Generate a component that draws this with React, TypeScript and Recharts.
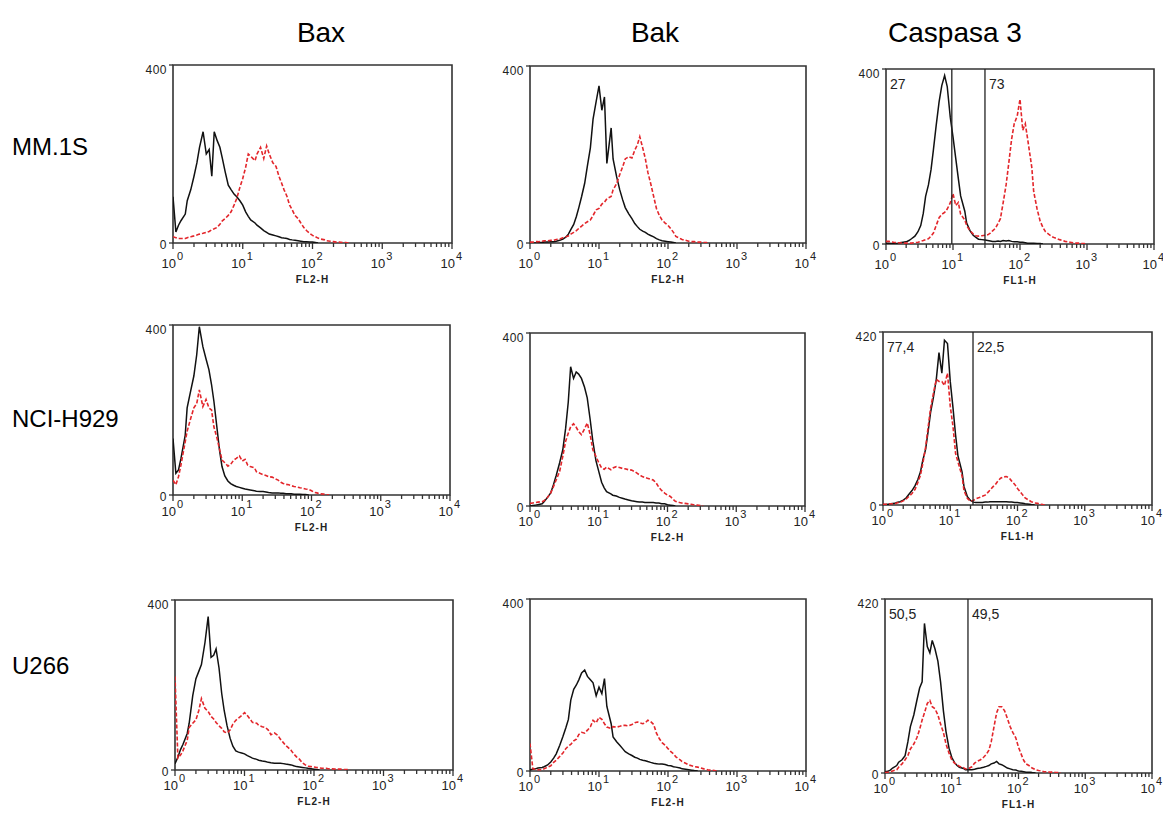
import React from "react";
import { LineChart, Line, XAxis, YAxis, ReferenceLine, ReferenceArea } from "recharts";

// fluorescence channels (log scale, E24 steps)
const CHANNELS = [
  1, 1.1, 1.2, 1.3, 1.5, 1.6, 1.8, 2, 2.2, 2.4, 2.7, 3, 3.3, 3.6, 3.9, 4.3, 4.7, 5.1, 5.6, 6.2, 6.8, 7.5, 8.2, 9.1,
  10, 11, 12, 13, 15, 16, 18, 20, 22, 24, 27, 30, 33, 36, 39, 43, 47, 51, 56, 62, 68, 75, 82, 91,
  100, 110, 120, 130, 150, 160, 180, 200, 220, 240, 270, 300, 330, 360, 390, 430, 470, 510, 560, 620, 680, 750, 820, 910,
  1000,
];

const X_TICKS = [
  1, 2, 3, 4, 5, 6, 7, 8, 9,
  10, 20, 30, 40, 50, 60, 70, 80, 90,
  100, 200, 300, 400, 500, 600, 700, 800, 900,
  1000, 2000, 3000, 4000, 5000, 6000, 7000, 8000, 9000,
  10000,
];

const COLUMN_TITLES = ["Bax", "Bak", "Caspasa 3"];
const ROW_LABELS = ["MM.1S", "NCI-H929", "U266"];

// black = control, red = treated (counts per channel)
const MM1S_BAX_CTRL = [104, 25, 40, 50, 65, 95, 120, 150, 180, 215, 250, 200, 210, 150, 250, 230, 215, 190, 160, 130, 120, 110, 104, 95, 85, 70, 60, 52, 45, 40, 34, 28, 24, 20, 18, 16, 14, 12, 11, 10, 8, 7, 6, 5, 4, 3, 3, 2, 2, 1, 0];
const MM1S_BAX_TREAT = [14, 12, 10, 10, 10, 12, 14, 16, 18, 20, 22, 24, 26, 30, 32, 35, 42, 50, 55, 62, 70, 85, 100, 125, 145, 170, 200, 195, 185, 200, 215, 190, 218, 200, 180, 172, 150, 135, 120, 105, 85, 75, 62, 55, 45, 35, 28, 22, 17, 14, 11, 9, 7, 5, 4, 3, 2, 2, 1, 1, 0];

const MM1S_BAK_CTRL = [0, 0, 0, 1, 1, 2, 2, 3, 3, 4, 6, 9, 13, 20, 30, 42, 60, 80, 105, 135, 175, 215, 280, 320, 355, 300, 330, 180, 260, 190, 150, 120, 98, 80, 66, 55, 44, 37, 31, 27, 24, 20, 17, 14, 10, 7, 5, 4, 3, 2, 1, 0];
const MM1S_BAK_TREAT = [2, 2, 3, 3, 4, 5, 5, 6, 6, 8, 9, 12, 14, 16, 20, 24, 28, 33, 38, 44, 48, 52, 62, 75, 78, 88, 92, 100, 105, 120, 134, 155, 172, 190, 195, 192, 210, 222, 240, 215, 190, 160, 135, 105, 78, 62, 52, 45, 40, 32, 24, 15, 10, 8, 6, 4, 3, 3, 2, 2, 1, 1, 0];

const MM1S_CASP_CTRL = [2, 2, 1, 1, 2, 3, 4, 5, 8, 12, 18, 28, 42, 70, 109, 135, 170, 215, 270, 325, 362, 385, 360, 290, 245, 195, 150, 110, 75, 48, 30, 20, 15, 11, 10, 9, 8, 7, 6, 6, 7, 6, 8, 7, 8, 6, 5, 5, 4, 4, 3, 2, 2, 2, 1, 1, 0];
const MM1S_CASP_TREAT = [6, 6, 5, 4, 3, 3, 2, 2, 2, 2, 3, 4, 6, 8, 10, 12, 18, 25, 42, 60, 68, 72, 80, 94, 115, 88, 95, 68, 55, 42, 30, 23, 19, 18, 19, 20, 21, 25, 30, 36, 47, 58, 94, 135, 185, 240, 275, 293, 331, 260, 275, 240, 175, 120, 80, 52, 38, 28, 22, 17, 14, 12, 10, 8, 6, 5, 4, 3, 2, 2, 1, 1, 0];

const NCI_BAX_CTRL = [133, 51, 59, 85, 140, 205, 245, 280, 330, 396, 349, 320, 295, 260, 220, 160, 105, 67, 45, 33, 27, 23, 20, 18, 16, 14, 13, 12, 10, 9, 8, 8, 7, 6, 5, 5, 5, 4, 4, 3, 3, 3, 2, 2, 2, 1, 1, 0];
const NCI_BAX_TREAT = [35, 24, 43, 70, 125, 150, 180, 205, 215, 247, 208, 225, 205, 200, 160, 135, 108, 82, 76, 68, 72, 82, 86, 92, 80, 84, 70, 67, 64, 55, 51, 48, 46, 43, 42, 38, 35, 30, 27, 25, 24, 22, 20, 19, 17, 16, 14, 13, 10, 6, 5, 3, 2, 1, 0];

const NCI_BAK_CTRL = [0, 1, 2, 3, 5, 10, 20, 30, 50, 70, 100, 130, 180, 240, 322, 295, 310, 305, 295, 275, 250, 200, 150, 105, 80, 55, 42, 33, 28, 25, 23, 20, 18, 16, 14, 12, 11, 10, 9, 9, 8, 8, 8, 8, 7, 7, 5, 5, 3, 2, 1, 0];
const NCI_BAK_TREAT = [6, 7, 8, 9, 10, 12, 20, 30, 45, 60, 80, 115, 150, 168, 183, 190, 182, 172, 165, 178, 192, 165, 130, 115, 100, 88, 85, 90, 84, 88, 91, 89, 87, 86, 84, 83, 80, 76, 72, 68, 66, 64, 62, 60, 54, 43, 36, 30, 25, 22, 16, 11, 8, 7, 6, 5, 4, 3, 2, 1, 0];

const NCI_CASP_CTRL = [1, 1, 2, 3, 4, 6, 8, 12, 17, 25, 35, 47, 62, 80, 108, 135, 180, 225, 260, 305, 370, 320, 400, 392, 300, 235, 170, 120, 80, 45, 20, 11, 7, 6, 6, 6, 7, 7, 8, 8, 8, 8, 8, 8, 8, 7, 7, 6, 6, 5, 4, 3, 2, 1, 0];
const NCI_CASP_TREAT = [2, 2, 2, 3, 3, 5, 7, 10, 14, 20, 28, 38, 55, 72, 100, 140, 190, 235, 270, 305, 300, 300, 290, 320, 240, 190, 125, 105, 70, 35, 16, 9, 11, 15, 18, 21, 24, 30, 36, 44, 50, 58, 65, 68, 69, 66, 58, 50, 40, 32, 24, 17, 11, 8, 5, 4, 2, 1, 0];

const U266_BAX_CTRL = [15, 30, 48, 60, 86, 110, 175, 215, 232, 248, 300, 361, 265, 270, 285, 240, 180, 140, 105, 75, 56, 45, 42, 40, 38, 34, 31, 28, 25, 23, 21, 20, 18, 17, 16, 16, 16, 15, 14, 13, 12, 10, 8, 7, 6, 5, 4, 3, 2, 1, 0];
const U266_BAX_TREAT = [220, 28, 35, 45, 70, 100, 110, 118, 140, 168, 145, 138, 126, 120, 112, 104, 98, 90, 87, 94, 108, 117, 122, 128, 135, 128, 120, 112, 110, 105, 102, 100, 94, 83, 87, 82, 72, 65, 58, 52, 46, 38, 31, 25, 17, 12, 9, 8, 7, 6, 5, 4, 4, 3, 3, 2, 2, 2, 1, 1, 0];

const U266_BAK_CTRL = [3, 4, 5, 7, 8, 10, 14, 21, 30, 40, 60, 80, 100, 120, 165, 190, 200, 212, 228, 235, 220, 212, 205, 175, 195, 180, 215, 150, 110, 79, 68, 60, 52, 45, 40, 36, 32, 30, 27, 25, 24, 22, 20, 18, 17, 16, 16, 15, 13, 12, 10, 9, 7, 5, 4, 3, 2, 1, 0];
const U266_BAK_TREAT = [64, 5, 4, 3, 3, 5, 9, 12, 20, 25, 34, 42, 52, 58, 62, 70, 74, 85, 90, 88, 95, 103, 118, 112, 125, 120, 110, 102, 99, 103, 102, 104, 106, 106, 105, 108, 112, 114, 112, 110, 112, 118, 115, 108, 88, 75, 66, 60, 52, 45, 40, 33, 26, 22, 18, 14, 12, 10, 9, 7, 5, 4, 2, 2, 1, 0];

const U266_CASP_CTRL = [3, 4, 7, 12, 18, 26, 32, 42, 75, 112, 140, 175, 205, 220, 361, 305, 290, 320, 300, 270, 220, 150, 100, 60, 38, 25, 18, 14, 11, 8, 8, 8, 9, 11, 12, 14, 16, 18, 22, 24, 28, 22, 20, 16, 12, 10, 8, 7, 5, 4, 3, 2, 2, 1, 0];
const U266_CASP_TREAT = [1, 2, 3, 5, 8, 14, 22, 32, 42, 58, 70, 85, 105, 128, 145, 168, 175, 160, 155, 140, 118, 98, 70, 48, 32, 24, 20, 16, 13, 10, 11, 15, 24, 28, 32, 38, 45, 55, 75, 112, 145, 160, 160, 150, 132, 112, 98, 85, 62, 45, 30, 22, 16, 12, 8, 6, 5, 3, 3, 2, 2, 1, 1, 0];

// gate markers and percentages for the caspase panels
const MM1S_GATES = [9.6, 30];
const MM1S_PCT = ["27", "73"];
const NCI_GATES = [21.8];
const NCI_PCT = ["77,4", "22,5"];
const U266_GATES = [17.5];
const U266_PCT = ["50,5", "49,5"];

const FONT = "'Liberation Sans', Arial, Helvetica, sans-serif";
const FRAME = "#333";
const RED = "#e3262b";

// box of each plot on the page; dy pushes the x tick labels down a bit
const PANELS = [
  { key: "a", left: 173, top: 65, w: 279, h: 178, dy: 5, yMax: 400, xLabel: "FL2-H", ctrl: MM1S_BAX_CTRL, treat: MM1S_BAX_TREAT },
  { key: "b", left: 530, top: 66, w: 276, h: 177, dy: 5, yMax: 400, xLabel: "FL2-H", ctrl: MM1S_BAK_CTRL, treat: MM1S_BAK_TREAT },
  { key: "c", left: 886, top: 69, w: 268, h: 175, dy: 5, yMax: 400, xLabel: "FL1-H", ctrl: MM1S_CASP_CTRL, treat: MM1S_CASP_TREAT, gates: MM1S_GATES, pct: MM1S_PCT },
  { key: "d", left: 173, top: 325, w: 277, h: 170, dy: 1, yMax: 400, xLabel: "FL2-H", ctrl: NCI_BAX_CTRL, treat: NCI_BAX_TREAT },
  { key: "e", left: 530, top: 333, w: 275, h: 173, dy: 0, yMax: 400, xLabel: "FL2-H", ctrl: NCI_BAK_CTRL, treat: NCI_BAK_TREAT },
  { key: "f", left: 883, top: 332, w: 269, h: 173, dy: 0, yMax: 420, xLabel: "FL1-H", ctrl: NCI_CASP_CTRL, treat: NCI_CASP_TREAT, gates: NCI_GATES, pct: NCI_PCT },
  { key: "g", left: 175, top: 600, w: 278, h: 170, dy: 0, yMax: 400, xLabel: "FL2-H", ctrl: U266_BAX_CTRL, treat: U266_BAX_TREAT },
  { key: "h", left: 530, top: 599, w: 276, h: 172, dy: 0, yMax: 400, xLabel: "FL2-H", ctrl: U266_BAK_CTRL, treat: U266_BAK_TREAT },
  { key: "i", left: 885, top: 599, w: 267, h: 174, dy: 0, yMax: 420, xLabel: "FL1-H", ctrl: U266_CASP_CTRL, treat: U266_CASP_TREAT, gates: U266_GATES, pct: U266_PCT },
];

const TITLE_X = [321, 655, 955];
const ROW_BASELINE = [155, 427, 674];

// room around each plot box for the axes
const AXIS_W = 40;
const AXIS_H = 44;
const PAD = 6;

const LogTick = (props: any) => {
  const { x, y, payload, dy } = props;
  const v = payload.value;
  const exp = Math.round(Math.log10(v));
  const major = Math.abs(v - Math.pow(10, exp)) < 1e-6;
  return (
    <g>
      <line x1={x} y1={y} x2={x} y2={y + (major ? 6 : 4)} stroke={FRAME} strokeWidth={1.3} />
      {major && (
        <>
          <text x={x + 3} y={y + 20 + dy} textAnchor="end" fontSize={13} fontFamily={FONT} fill="#222">
            10
          </text>
          <text x={x + 4} y={y + 12 + dy} fontSize={11} fontFamily={FONT} fill="#222">
            {exp}
          </text>
        </>
      )}
    </g>
  );
};

const CountTick = (props: any) => {
  const { x, y, payload } = props;
  // the zero label sits a little higher so it clears the 10^0 label
  const ty = payload.value === 0 ? y + 6 : y + 9;
  return (
    <g>
      <line x1={x - 4} y1={y} x2={x} y2={y} stroke={FRAME} strokeWidth={1.3} />
      <text x={x - 6} y={ty} textAnchor="end" fontSize={12} letterSpacing={0.5} fontFamily={FONT} fill="#222">
        {payload.value}
      </text>
    </g>
  );
};

const gateText = (text: string) => (props: any) => {
  const vb = props.viewBox || {};
  return (
    <text x={(vb.x || 0) + 4} y={(vb.y || 0) + 20} fontSize={14} fontFamily={FONT} fill="#222">
      {text}
    </text>
  );
};

function Panel(p: any) {
  const data = CHANNELS.map((x, i) => ({ x, ctrl: p.ctrl[i], treat: p.treat[i] }));
  const gates: number[] = p.gates || [];
  const pct: string[] = p.pct || [];
  const axisLabel = (props: any) => {
    const vb = props.viewBox || {};
    return (
      <text
        x={(vb.x || 0) + (vb.width || 0) / 2}
        y={(vb.y || 0) + 35 + p.dy}
        textAnchor="middle"
        fontSize={10}
        fontWeight={700}
        letterSpacing={1}
        fontFamily={FONT}
        fill="#222"
      >
        {p.xLabel}
      </text>
    );
  };
  return (
    <div style={{ position: "absolute", left: p.left - AXIS_W - PAD, top: p.top - PAD }}>
      <LineChart
        width={p.w + AXIS_W + 2 * PAD + 10}
        height={p.h + AXIS_H + 2 * PAD}
        data={data}
        margin={{ top: PAD, right: PAD + 10, bottom: PAD, left: PAD }}
      >
        <XAxis
          dataKey="x"
          type="number"
          scale="log"
          domain={[1, 10000]}
          allowDataOverflow
          ticks={X_TICKS}
          interval={0}
          height={AXIS_H}
          tickSize={0}
          tickMargin={0}
          tickLine={false}
          axisLine={false}
          tick={(t: any) => <LogTick {...t} dy={p.dy} />}
          label={axisLabel}
        />
        <YAxis
          type="number"
          domain={[0, p.yMax]}
          allowDataOverflow
          ticks={[0, p.yMax]}
          interval={0}
          width={AXIS_W}
          tickSize={0}
          tickMargin={0}
          tickLine={false}
          axisLine={false}
          tick={(t: any) => <CountTick {...t} />}
        />
        <Line
          dataKey="ctrl"
          type="linear"
          stroke="#111"
          strokeWidth={1.5}
          dot={false}
          isAnimationActive={false}
        />
        <Line
          dataKey="treat"
          type="linear"
          stroke={RED}
          strokeWidth={1.6}
          strokeDasharray="4 2"
          dot={false}
          isAnimationActive={false}
        />
        {pct.length > 0 && (
          <ReferenceLine x={1} stroke="none" ifOverflow="visible" label={gateText(pct[0])} />
        )}
        {gates.map((g, i) => (
          <ReferenceLine
            key={g}
            x={g}
            stroke="#222"
            strokeWidth={1.3}
            ifOverflow="visible"
            label={i === gates.length - 1 && pct[1] ? gateText(pct[1]) : undefined}
          />
        ))}
        <ReferenceArea
          x1={1}
          x2={10000}
          y1={0}
          y2={p.yMax}
          fill="none"
          stroke={FRAME}
          strokeWidth={1.6}
          ifOverflow="visible"
        />
      </LineChart>
    </div>
  );
}

export default function App() {
  return (
    <div
      style={{
        position: "absolute",
        left: 0,
        top: 0,
        width: 1163,
        height: 814,
        background: "#fff",
        fontFamily: FONT,
        overflow: "hidden",
      }}
    >
      <svg width={1163} height={814} style={{ position: "absolute", left: 0, top: 0 }}>
        {COLUMN_TITLES.map((t, i) => (
          <text key={t} x={TITLE_X[i]} y={42} textAnchor="middle" fontSize={28} fontFamily={FONT} fill="#000">
            {t}
          </text>
        ))}
        {ROW_LABELS.map((t, i) => (
          <text key={t} x={12} y={ROW_BASELINE[i]} fontSize={24} fontFamily={FONT} fill="#000">
            {t}
          </text>
        ))}
      </svg>
      {PANELS.map((p) => (
        <Panel {...p} />
      ))}
    </div>
  );
}
